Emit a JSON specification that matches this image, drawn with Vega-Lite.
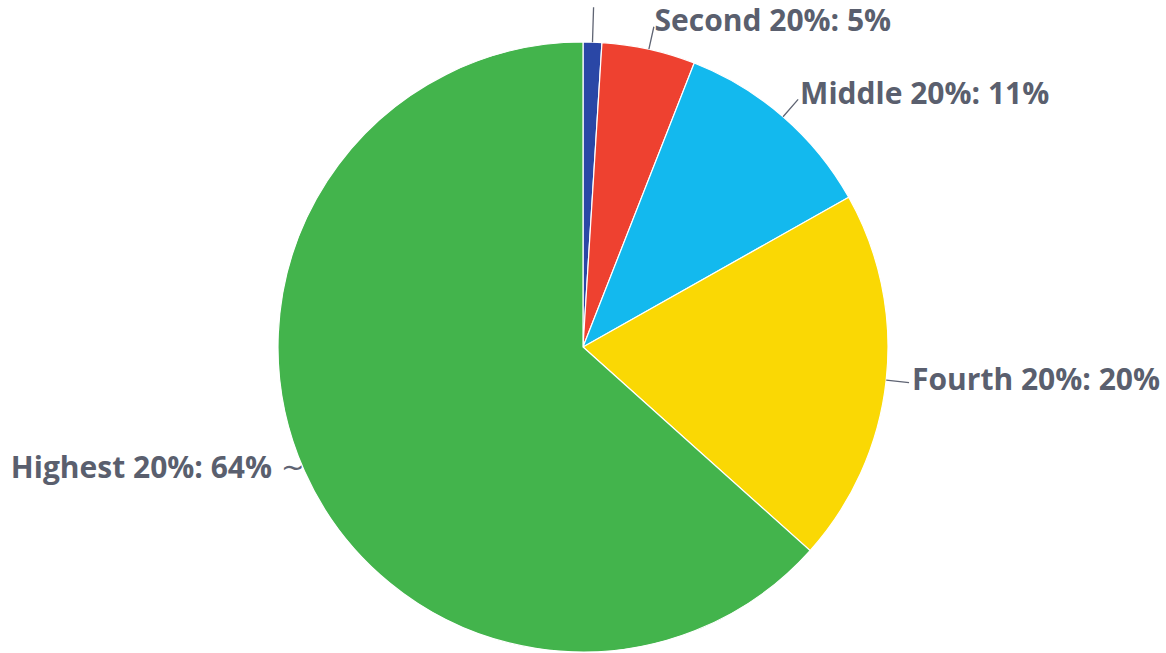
{
  "$schema": "https://vega.github.io/schema/vega-lite/v6.json",
  "autosize": {"type": "none"},
  "width": 1166,
  "height": 612,
  "padding": {"top": 41, "left": 0, "right": 0, "bottom": 0},
  "background": "white",
  "config": {"view": {"stroke": null}},
  "data": {
    "values": [
      {"group": "Lowest 20%", "share": 1, "rank": 1, "label": "Lowest 20%: 1%"},
      {"group": "Second 20%", "share": 5, "rank": 2, "label": "Second 20%: 5%"},
      {"group": "Middle 20%", "share": 11, "rank": 3, "label": "Middle 20%: 11%"},
      {"group": "Fourth 20%", "share": 20, "rank": 4, "label": "Fourth 20%: 20%"},
      {"group": "Highest 20%", "share": 64, "rank": 5, "label": "Highest 20%: 64%"}
    ]
  },
  "encoding": {
    "theta": {"field": "share", "type": "quantitative", "stack": true},
    "order": {"field": "rank", "type": "quantitative", "sort": "ascending"}
  },
  "layer": [
    {
      "mark": {"type": "arc", "outerRadius": 305, "stroke": "white", "strokeWidth": 1.2},
      "encoding": {
        "color": {
          "field": "group",
          "type": "nominal",
          "legend": null,
          "scale": {
            "domain": ["Lowest 20%", "Second 20%", "Middle 20%", "Fourth 20%", "Highest 20%"],
            "range": ["#2a47a6", "#ee4130", "#13b9ee", "#fad804", "#43b44c"]
          }
        }
      }
    },
    {
      "mark": {"type": "arc", "innerRadius": 305, "outerRadius": 340, "padAngle": 3, "fillOpacity": 0, "stroke": "#5f6473", "strokeWidth": 1.3},
      "encoding": {
        "strokeOpacity": {"condition": {"test": "datum.rank == 1", "value": 1}, "value": 0}
      }
    },
    {
      "mark": {"type": "arc", "innerRadius": 305, "outerRadius": 328, "padAngle": 3, "fillOpacity": 0, "stroke": "#5f6473", "strokeWidth": 1.3},
      "encoding": {
        "strokeOpacity": {"condition": {"test": "datum.rank == 1 || datum.rank == 5", "value": 0}, "value": 1}
      }
    },
    {
      "mark": {"type": "text", "radius": 331, "align": "left", "baseline": "middle", "dy": -2, "font": "Open Sans", "fontWeight": "bold", "fontSize": 30, "color": "#5a5f6e"},
      "encoding": {
        "text": {"field": "label"},
        "opacity": {"condition": {"test": "datum.rank == 1 || datum.rank == 5", "value": 0}, "value": 1}
      }
    },
    {
      "mark": {"type": "text", "radius": 334, "align": "right", "baseline": "middle", "dx": -6, "dy": -14, "font": "Open Sans", "fontWeight": "bold", "fontSize": 30, "color": "#5a5f6e"},
      "encoding": {
        "text": {"field": "label"},
        "opacity": {"condition": {"test": "datum.rank == 5", "value": 1}, "value": 0}
      }
    },
    {
      "mark": {"type": "text", "radius": 318, "align": "center", "baseline": "middle", "dy": -8, "font": "DejaVu Sans", "fontSize": 28, "color": "#5f6473"},
      "encoding": {
        "text": {"value": "~"},
        "opacity": {"condition": {"test": "datum.rank == 5", "value": 1}, "value": 0}
      }
    }
  ]
}
